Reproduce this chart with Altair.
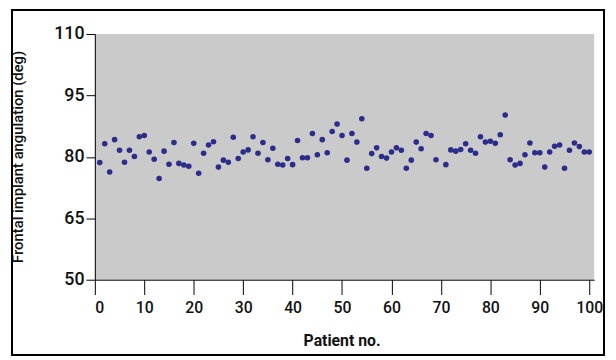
import altair as alt
import pandas as pd

patients = list(range(1, 70)) + list(range(71, 101))
angles = [
    78.6, 83.2, 76.3, 84.2, 81.6, 78.7, 81.6, 80.1, 84.9, 85.2,
    81.2, 79.4, 74.7, 81.4, 78.2, 83.5, 78.4, 78.0, 77.7, 83.3,
    76.0, 80.9, 82.9, 83.7, 77.5, 79.2, 78.7, 84.8, 79.6, 81.2,
    81.7, 84.9, 80.9, 83.5, 79.3, 82.1, 78.2, 78.0, 79.6, 78.1,
    84.0, 79.8, 79.8, 85.7, 80.5, 84.2, 81.0, 86.2, 88.0, 85.2,
    79.2, 85.7, 83.6, 89.3, 77.2, 80.8, 82.2, 80.1, 79.7, 81.2,
    82.2, 81.6, 77.2, 79.2, 83.6, 82.0, 85.7, 85.2, 79.3,
    78.1, 81.7, 81.4, 81.8, 83.2, 81.6, 80.9, 84.9, 83.6, 83.8,
    83.3, 85.4, 90.2, 79.3, 78.0, 78.4, 80.5, 83.4, 81.0, 81.0,
    77.5, 81.2, 82.6, 82.9, 77.2, 81.6, 83.4, 82.5, 81.2, 81.2,
]
x_ticks = [0, 10, 20, 30, 40, 50, 60, 70, 80, 90, 100]
y_ticks = [50, 65, 80, 95, 110]

df = pd.DataFrame({"patient": patients, "angle": angles})

W, H = 506, 249
FONT = "Roboto"

points = alt.Chart(df).mark_circle(size=32, color="#2c2c8c", opacity=1).encode(
    x=alt.X("patient:Q",
            scale=alt.Scale(domain=[0, 101], nice=False, zero=False),
            axis=alt.Axis(values=x_ticks, title="Patient no.", grid=False,
                          tickSize=15, labelPadding=5, labelFontSize=16,
                          labelFontWeight=500,
                          titleFontSize=16, titleFontWeight="bold",
                          titleX=250, titleY=62, titleBaseline="middle",
                          domainColor="#000", tickColor="#000",
                          labelColor="#111", titleColor="#111",
                          labelFont=FONT, titleFont=FONT)),
    y=alt.Y("angle:Q",
            scale=alt.Scale(domain=[50, 110], nice=False, zero=False),
            axis=alt.Axis(values=y_ticks, title="Frontal implant angulation (deg)",
                          grid=False, tickSize=9, labelPadding=2, labelFontSize=18,
                          labelFontWeight=500,
                          titleFontSize=15, titleFontWeight=500,
                          titleX=-78, titleY=124, titleAngle=-90,
                          titleBaseline="middle", titleAlign="center",
                          domainColor="#000", tickColor="#000",
                          labelColor="#111", titleColor="#111",
                          labelFont=FONT, titleFont=FONT)),
)

frame = alt.Chart(df).mark_rect(filled=False, stroke="#000", strokeWidth=1.2, clip=False).encode(
    x=alt.value(-84), x2=alt.value(516), y=alt.value(-24), y2=alt.value(325)
)

chart = alt.layer(frame, points).properties(
    width=W, height=H,
    padding={"left": 88, "top": 24, "right": 14, "bottom": 79},
    autosize=alt.AutoSizeParams(type="none"),
    background="white",
).configure_view(fill="#cacaca", stroke=None)

chart.save("out.html", embed_options={"renderer": "svg", "actions": False})
